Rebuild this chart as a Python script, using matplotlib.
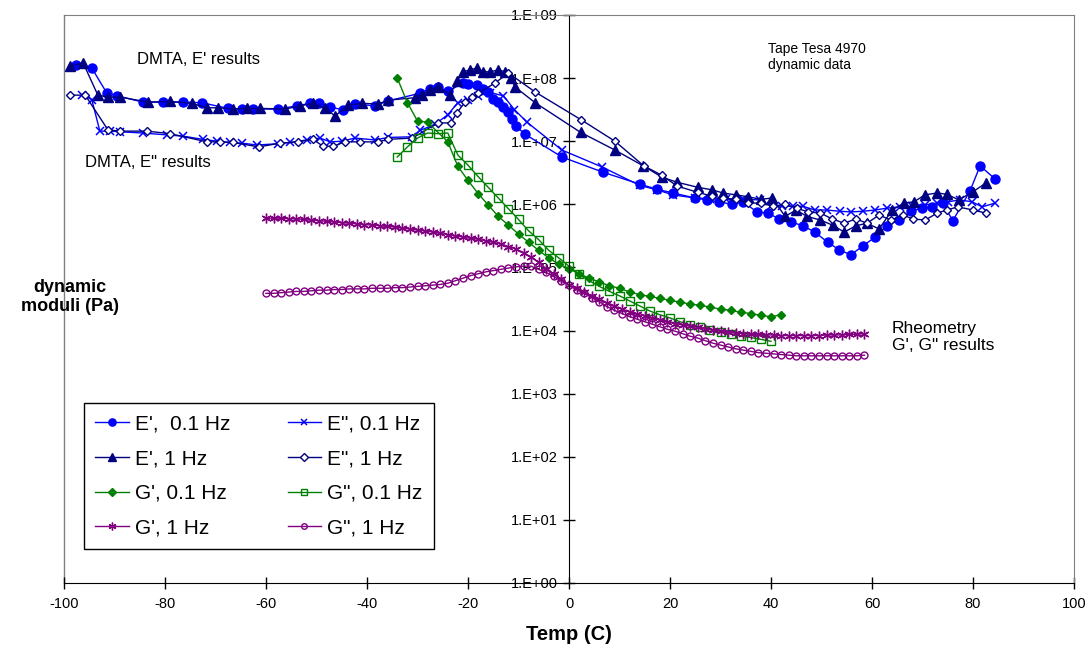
import numpy as np
import matplotlib
matplotlib.use("Agg")
import matplotlib.pyplot as plt
from matplotlib.ticker import FixedLocator, FixedFormatter, NullLocator

plt.rcParams['font.family'] = ['Liberation Sans', 'DejaVu Sans']
plt.rcParams['axes.unicode_minus'] = False

# ---- data (stored as log10 of modulus in Pa) ----
ep01_temp = [-97.6, -94.5, -91.5, -89.5, -84.4, -80.4, -76.4, -72.7, -67.5, -64.8, -62.6, -57.6,
             -53.9, -51.3, -49.5, -47.3, -44.8, -42.4, -38.4, -35.8, -29.5, -27.5, -26.0, -24.0,
             -21.0, -20.0, -18.2, -17.0, -16.0, -15.0, -14.0, -13.0, -12.0, -11.3, -10.5, -8.7,
             -1.4, 6.7, 14.0, 17.4, 20.6, 25.0, 27.3, 29.7, 32.3, 34.5, 37.2, 39.4, 41.6, 44.0,
             46.3, 48.7, 51.2, 53.5, 55.8, 58.2, 60.6, 63.0, 65.3, 67.7, 69.9, 71.9, 74.0, 76.0,
             79.4, 81.4, 84.4]
ep01_log = [8.20, 8.16, 7.76, 7.72, 7.62, 7.62, 7.62, 7.61, 7.52, 7.51, 7.51, 7.51,
            7.56, 7.60, 7.61, 7.54, 7.50, 7.59, 7.56, 7.64, 7.76, 7.83, 7.86, 7.79,
            7.92, 7.90, 7.89, 7.83, 7.78, 7.67, 7.62, 7.54, 7.46, 7.35, 7.24, 7.11,
            6.75, 6.51, 6.32, 6.24, 6.18, 6.10, 6.07, 6.04, 6.00, 6.04, 5.88, 5.86, 5.77, 5.72,
            5.66, 5.56, 5.40, 5.28, 5.20, 5.34, 5.48, 5.66, 5.75, 5.89, 5.94, 5.96, 6.02, 5.74,
            6.21, 6.61, 6.40]

epp01_temp = [-96.4, -94.5, -92.9, -90.9, -88.9, -84.4, -79.6, -76.4, -72.5, -69.7, -67.1, -64.8,
              -61.8, -57.6, -55.2, -51.9, -49.3, -47.3, -45.0, -42.4, -38.4, -35.8, -31.0, -29.5,
              -26.5, -24.0, -22.0, -20.0, -18.0, -15.6, -13.0, -10.8, -8.3, -1.4, 6.6, 14.0,
              17.4, 20.6, 25.0, 28.0, 31.0, 34.5, 37.8, 40.0, 42.2, 44.4, 46.3, 48.7, 51.0, 53.7,
              55.8, 58.2, 60.6, 63.0, 65.5, 67.9, 70.5, 72.9, 75.0, 77.4, 79.8, 81.8, 84.4]
epp01_log = [7.74, 7.66, 7.16, 7.16, 7.15, 7.13, 7.10, 7.08, 7.03, 7.00, 6.98, 6.97,
             6.94, 6.96, 6.98, 7.02, 7.05, 6.99, 7.00, 7.05, 7.02, 7.06, 7.07, 7.17,
             7.27, 7.42, 7.61, 7.65, 7.72, 7.77, 7.72, 7.50, 7.30, 6.86, 6.59, 6.30,
             6.23, 6.15, 6.10, 6.09, 6.08, 6.08, 6.07, 5.97, 5.97, 5.97, 5.97, 5.91, 5.91, 5.89,
             5.88, 5.89, 5.91, 5.94, 5.96, 5.97, 5.99, 6.02, 6.04, 6.07, 6.04, 5.96, 6.02]

ep1_temp = [-98.8, -96.2, -93.3, -91.3, -88.9, -83.4, -79.0, -74.7, -71.7, -69.5, -66.5, -63.8,
            -61.2, -56.2, -53.3, -50.7, -48.3, -46.3, -43.8, -41.0, -37.8, -35.8, -30.5, -29.2,
            -27.5, -26.0, -23.6, -22.2, -21.0, -19.6, -18.3, -17.0, -15.6, -14.0, -12.6, -11.5,
            -10.7, -6.7, 2.3, 9.1, 14.7, 18.4, 21.4, 25.5, 28.3, 30.5, 33.0, 35.4, 38.0, 40.2,
            42.8, 45.0, 47.1, 49.8, 52.2, 54.5, 56.8, 59.0, 61.4, 64.0, 66.3, 68.3, 70.5, 72.9,
            74.8, 77.2, 80.0, 82.6]
ep1_log = [8.19, 8.24, 7.73, 7.70, 7.70, 7.62, 7.63, 7.60, 7.53, 7.53, 7.51, 7.52,
           7.52, 7.51, 7.56, 7.60, 7.52, 7.40, 7.57, 7.60, 7.59, 7.65, 7.69, 7.74,
           7.81, 7.86, 7.74, 7.95, 8.10, 8.13, 8.16, 8.10, 8.10, 8.13, 8.10, 8.00,
           7.86, 7.61, 7.14, 6.86, 6.61, 6.43, 6.35, 6.27, 6.23, 6.18, 6.15, 6.12, 6.08, 6.10,
           5.81, 5.91, 5.81, 5.75, 5.67, 5.56, 5.66, 5.70, 5.61, 5.91, 6.02, 6.04, 6.15, 6.18,
           6.16, 6.07, 6.20, 6.34]

epp1_temp = [-98.8, -95.8, -91.3, -88.9, -83.6, -79.0, -71.7, -69.2, -66.5, -61.4, -57.2, -53.7,
             -50.7, -48.7, -46.7, -44.4, -41.4, -37.8, -35.8, -31.0, -26.0, -23.4, -22.2, -20.6,
             -19.2, -18.0, -14.7, -12.0, -6.7, 2.4, 9.1, 14.8, 18.4, 21.4, 25.5, 28.3,
             30.5, 33.0, 35.4, 38.0, 40.4, 42.8, 45.1, 47.3, 49.8, 52.1, 54.5, 56.8, 59.0, 61.4,
             63.8, 66.1, 68.1, 70.5, 72.9, 74.8, 77.0, 80.0, 82.6]
epp1_log = [7.73, 7.73, 7.18, 7.16, 7.16, 7.12, 6.99, 6.99, 6.98, 6.91, 6.97, 6.99,
            7.03, 6.92, 6.92, 6.99, 6.99, 6.99, 7.03, 7.05, 7.29, 7.29, 7.45, 7.62,
            7.70, 7.76, 7.92, 8.08, 7.78, 7.34, 7.00, 6.61, 6.46, 6.29, 6.19, 6.13,
            6.10, 6.08, 6.02, 6.02, 5.97, 6.00, 5.94, 5.88, 5.86, 5.77, 5.70, 5.77, 5.70, 5.83,
            5.75, 5.83, 5.77, 5.75, 5.86, 5.91, 5.96, 5.91, 5.86]

gp01_temp = [-34, -32, -30, -28, -24, -22, -20, -18, -16, -14, -12, -10, -8, -6, -4, -2, 0,
             2, 4, 6, 8, 10, 12, 14, 16, 18, 20, 22, 24, 26, 28, 30, 32, 34, 36, 38, 40, 42]
gp01_log = [8.00, 7.61, 7.32, 7.30, 6.99, 6.60, 6.38, 6.17, 5.99, 5.81, 5.67, 5.53, 5.40,
            5.27, 5.15, 5.05, 4.98, 4.90, 4.83, 4.77, 4.71, 4.67, 4.61, 4.57, 4.54, 4.51,
            4.48, 4.45, 4.42, 4.40, 4.37, 4.34, 4.32, 4.29, 4.27, 4.24, 4.22, 4.25]

gpp01_temp = [-34, -32, -30, -28, -26, -24, -22, -20, -18, -16, -14, -12, -10, -8, -6, -4, -2,
              0, 2, 4, 6, 8, 10, 12, 14, 16, 18, 20, 22, 24, 26, 28, 30, 32, 34, 36, 38, 40]
gpp01_log = [6.75, 6.91, 7.05, 7.13, 7.12, 7.13, 6.78, 6.62, 6.44, 6.27, 6.10, 5.93, 5.76,
             5.58, 5.44, 5.27, 5.15, 5.02, 4.89, 4.79, 4.70, 4.62, 4.55, 4.47, 4.39, 4.31,
             4.25, 4.20, 4.14, 4.09, 4.05, 4.01, 3.97, 3.95, 3.91, 3.89, 3.86, 3.83]

g1_temp = [-60.0, -58.5, -57.0, -55.5, -54.0, -52.5, -51.0, -49.5, -48.0, -46.5, -45.0, -43.5,
           -42.0, -40.5, -39.0, -37.5, -36.0, -34.5, -33.0, -31.5, -30.0, -28.5, -27.0, -25.5,
           -24.0, -22.5, -21.0, -19.5, -18.0, -16.5, -15.0, -13.5, -12.0, -10.5, -9.0, -7.5,
           -6.0, -4.5, -3.0, -1.5, 0.0, 1.5, 3.0, 4.5, 6.0, 7.5, 9.0, 10.5, 12.0, 13.5,
           15.0, 16.5, 18.0, 19.5, 21.0, 22.5, 24.0, 25.5, 27.0, 28.5, 30.0, 31.5, 33.0, 34.5,
           36.0, 37.5, 39.0, 40.5, 42.0, 43.5, 45.0, 46.5, 48.0, 49.5, 51.0, 52.5, 54.0, 55.5,
           57.0, 58.5]
gp1_log = [5.78, 5.78, 5.78, 5.77, 5.77, 5.76, 5.75, 5.74, 5.73, 5.72, 5.71, 5.70,
           5.69, 5.68, 5.67, 5.66, 5.65, 5.64, 5.62, 5.61, 5.59, 5.58, 5.56, 5.54,
           5.52, 5.50, 5.48, 5.46, 5.45, 5.42, 5.40, 5.37, 5.33, 5.29, 5.23, 5.16,
           5.08, 4.98, 4.90, 4.81, 4.72, 4.67, 4.61, 4.55, 4.50, 4.44, 4.39, 4.34, 4.30, 4.26,
           4.23, 4.20, 4.17, 4.14, 4.11, 4.09, 4.07, 4.05, 4.03, 4.01, 3.99, 3.97, 3.96, 3.95,
           3.94, 3.94, 3.93, 3.93, 3.92, 3.92, 3.92, 3.92, 3.92, 3.92, 3.93, 3.93, 3.93, 3.94,
           3.94, 3.95]
gpp1_log = [4.59, 4.59, 4.60, 4.61, 4.62, 4.62, 4.63, 4.64, 4.64, 4.65, 4.65, 4.66,
            4.66, 4.66, 4.67, 4.67, 4.67, 4.68, 4.68, 4.69, 4.70, 4.71, 4.72, 4.73,
            4.75, 4.79, 4.83, 4.87, 4.90, 4.93, 4.95, 4.97, 4.99, 5.01, 5.02, 5.02,
            4.97, 4.92, 4.86, 4.78, 4.72, 4.65, 4.59, 4.52, 4.46, 4.38, 4.32, 4.27, 4.22, 4.18,
            4.14, 4.10, 4.06, 4.02, 3.99, 3.95, 3.91, 3.88, 3.84, 3.80, 3.77, 3.74, 3.71, 3.69,
            3.67, 3.65, 3.64, 3.63, 3.62, 3.61, 3.60, 3.60, 3.60, 3.60, 3.60, 3.60, 3.60, 3.60,
            3.60, 3.61]

decades = list(range(0, 10))

BLUE = '#0000FF'
NAVY = '#000080'
GREEN = '#008000'
PURPLE = '#800080'

fig = plt.figure(figsize=(10.92, 6.55), dpi=100)
ax = fig.add_axes([64 / 1092, 1 - 583 / 655, (1074 - 64) / 1092, (583 - 15) / 655])

series = [
    (ep01_temp, ep01_log, "E',  0.1 Hz", dict(color=BLUE, marker='o', ms=6.5)),
    (epp01_temp, epp01_log, 'E", 0.1 Hz', dict(color=BLUE, marker='x', ms=6, mew=1.1)),
    (ep1_temp, ep1_log, "E', 1 Hz", dict(color=NAVY, marker='^', ms=6.5)),
    (epp1_temp, epp1_log, 'E", 1 Hz', dict(color=NAVY, marker='D', ms=4.5, mfc='white', mew=1)),
    (gp01_temp, gp01_log, "G', 0.1 Hz", dict(color=GREEN, marker='D', ms=4.5)),
    (gpp01_temp, gpp01_log, 'G", 0.1 Hz', dict(color=GREEN, marker='s', ms=6, mfc='none', mew=1)),
    (g1_temp, gp1_log, "G', 1 Hz", dict(color=PURPLE, marker=(6, 2, 0), ms=7, mew=1)),
    (g1_temp, gpp1_log, 'G", 1 Hz', dict(color=PURPLE, marker='o', ms=5, mfc='none', mew=1)),
]

lines = {}
for temp, logv, label, style in series:
    ln, = ax.plot(temp, 10 ** np.array(logv), lw=1, label=label, **style)
    lines[label] = ln

ax.set_yscale('log')
ax.set_xlim(-100, 100)
ax.set_ylim(1, 1e9)
ax.set_xticks(range(-100, 101, 20))
ax.yaxis.set_major_locator(FixedLocator([10.0 ** d for d in decades]))
ax.yaxis.set_major_formatter(FixedFormatter(['1.E+%02d' % d for d in decades]))
ax.yaxis.set_minor_locator(NullLocator())

ax.spines['left'].set_position(('data', 0))
for s in ['top', 'right']:
    ax.spines[s].set_color('#808080')
ax.axvline(-100, color='#808080', lw=1, clip_on=False, zorder=0)
ax.tick_params(axis='both', direction='inout', length=8, width=1, labelsize=10.5, pad=4)
ax.tick_params(axis='x', pad=6)

ax.set_xlabel('Temp (C)', fontsize=14.5, fontweight='bold', labelpad=10)
fig.text(70 / 1092, 1 - 297 / 655, 'dynamic\nmoduli (Pa)', fontsize=13, fontweight='bold',
         ha='center', va='center', linespacing=1.1)

fig.text(137 / 1092, 1 - 60 / 655, "DMTA, E' results", fontsize=12, va='center')
fig.text(85 / 1092, 1 - 163 / 655, 'DMTA, E" results', fontsize=12, va='center')
fig.text(892 / 1092, 1 - 337 / 655, 'Rheometry\nG\', G" results', fontsize=12.5, va='center',
         linespacing=1.15)
fig.text(768 / 1092, 1 - 57 / 655, 'Tape Tesa 4970\ndynamic data', fontsize=10, va='center',
         linespacing=1.15)

order = ["E',  0.1 Hz", "E', 1 Hz", "G', 0.1 Hz", "G', 1 Hz",
         'E", 0.1 Hz', 'E", 1 Hz', 'G", 0.1 Hz', 'G", 1 Hz']
leg = ax.legend([lines[k] for k in order], order, ncol=2, loc='lower left',
                bbox_to_anchor=(84 / 1092, 1 - 549 / 655), bbox_transform=fig.transFigure,
                fontsize=15, frameon=True, fancybox=False, framealpha=1, edgecolor='black',
                handlelength=1.6, handletextpad=0.3, columnspacing=2.75, labelspacing=0.75,
                borderpad=0.55, markerscale=0.8, borderaxespad=0)
leg.get_frame().set_linewidth(1)

fig.savefig('out.png', dpi=100)
